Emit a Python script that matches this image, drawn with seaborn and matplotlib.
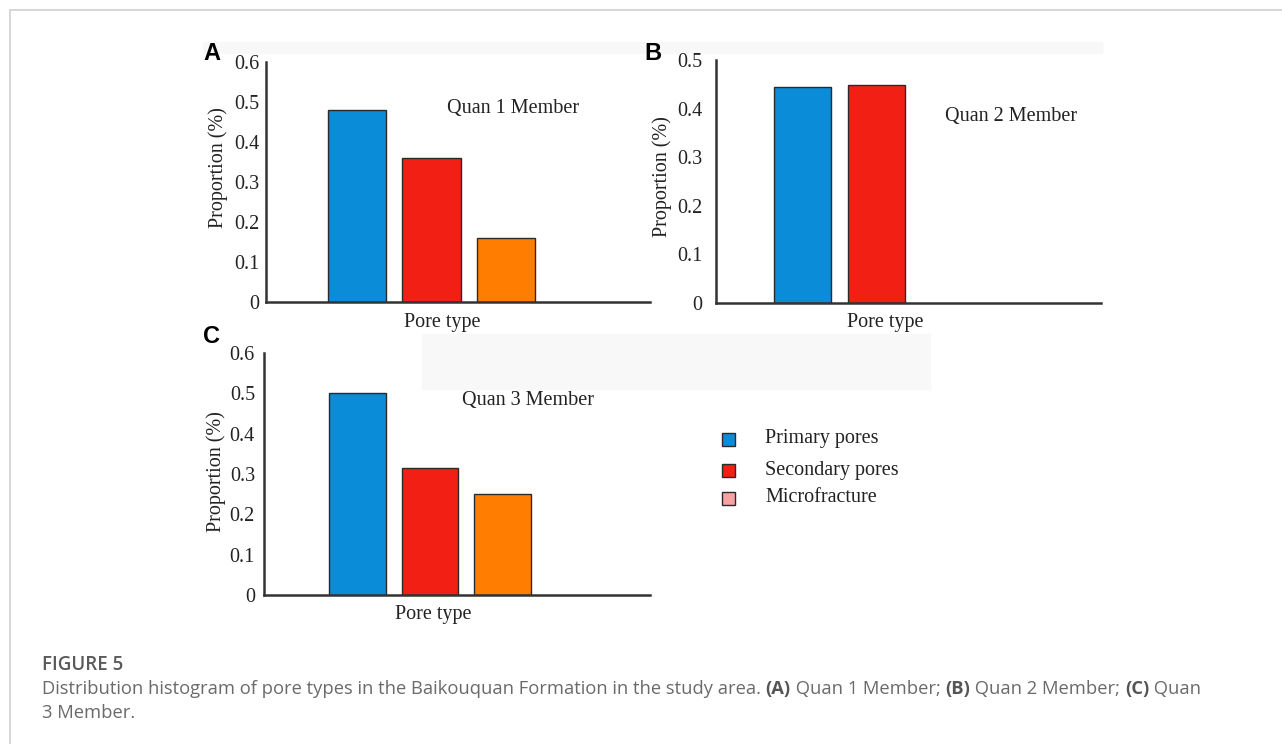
import matplotlib
matplotlib.use("Agg")
import matplotlib.pyplot as plt
import seaborn as sns
import pandas as pd
from matplotlib.patches import Rectangle

sns.set_theme(style="white")
plt.rcParams['font.family'] = ['Liberation Serif', 'DejaVu Serif']

# ---- data ----
categories = ["Primary pores", "Secondary pores", "Microfracture"]
quan1_values = [0.48, 0.36, 0.16]
quan2_categories = ["Primary pores", "Secondary pores"]
quan2_values = [0.445, 0.448]
quan3_values = [0.50, 0.315, 0.25]
bar_colors = {"Primary pores": "#0a8cd8", "Secondary pores": "#f21f14", "Microfracture": "#ff7d00"}
legend_colors = ["#0a8cd8", "#f21f14", "#f7a3a3"]
yticks_A = [0, 0.1, 0.2, 0.3, 0.4, 0.5, 0.6]
yticks_B = [0, 0.1, 0.2, 0.3, 0.4, 0.5]
yticks_C = [0, 0.1, 0.2, 0.3, 0.4, 0.5, 0.6]
ytick_labels_A = ["0", "0.1", "0.2", "0.3", "0.4", "0.5", "0.6"]
ytick_labels_B = ["0", "0.1", "0.2", "0.3", "0.4", "0.5"]

W, H = 1282, 744
fig = plt.figure(figsize=(W / 100, H / 100), dpi=100)

def frac(left, top, right, bottom):
    return [left / W, 1 - bottom / H, (right - left) / W, (bottom - top) / H]

# background artifacts / frame
fig.add_artist(plt.Line2D([9.5 / W, 1], [1 - 9.5 / H, 1 - 9.5 / H], color="#cfcfcf", lw=1.2))
fig.add_artist(plt.Line2D([9.5 / W, 9.5 / W], [0, 1 - 9.5 / H], color="#cfcfcf", lw=1.2))
fig.add_artist(Rectangle((203 / W, 1 - 53 / H), (1102 - 203) / W, 11 / H,
                         transform=fig.transFigure, color="#f8f8f8", zorder=0))
fig.add_artist(Rectangle((422 / W, 1 - 389 / H), (930 - 422) / W, 55 / H,
                         transform=fig.transFigure, color="#f8f8f8", zorder=0))

TXT = "#222222"

def panel(rect, cats, vals, ylim, yticks, yticklabels, xlim, tick_pad,
          label_text, text_xy, ylab_xy, xlab_xy):
    ax = fig.add_axes(rect)
    ax.patch.set_alpha(0)
    df = pd.DataFrame({"type": cats, "value": vals})
    sns.barplot(data=df, x="type", y="value", hue="type", order=categories,
                hue_order=cats, palette=bar_colors, width=0.78, dodge=False,
                legend=False, edgecolor="#2a2a2a", linewidth=1.0, saturation=1, ax=ax)
    ax.set_xlim(*xlim)
    ax.set_ylim(*ylim)
    ax.set_yticks(yticks)
    ax.set_yticklabels(yticklabels, fontsize=14.5, color=TXT)
    ax.set_xticks([])
    for s in ["top", "right"]:
        ax.spines[s].set_visible(False)
    for s in ["left", "bottom"]:
        ax.spines[s].set_color("#333333")
        ax.spines[s].set_linewidth(1.8)
    ax.tick_params(axis="y", length=0, pad=tick_pad)
    ax.set_ylabel("")
    ax.set_xlabel("")
    ax.text(ylab_xy[0], ylab_xy[1], "Proportion (%)", transform=ax.transAxes,
            rotation=90, fontsize=14.5, color=TXT, ha="center", va="center")
    ax.text(xlab_xy[0], xlab_xy[1], "Pore type", transform=ax.transAxes,
            fontsize=14.5, color=TXT, ha="center", va="center")
    ax.text(text_xy[0], text_xy[1], label_text, transform=ax.transAxes,
            fontsize=14.5, color=TXT, ha="center", va="center")
    return ax

axA = panel(frac(266, 62, 650, 302), categories, quan1_values, (0, 0.6), yticks_A,
            ytick_labels_A, (-1.22, 3.93), 4.5, "Quan 1 Member",
            ((513 - 266) / 384, (302 - 108) / 240),
            ((218 - 266) / 384, (302 - 168) / 240),
            ((442 - 266) / 384, (302 - 323) / 240))
axB = panel(frac(716, 60, 1101, 303), quan2_categories, quan2_values, (0, 0.5), yticks_B,
            ytick_labels_B, (-1.18, 4.06), 10, "Quan 2 Member",
            ((1011 - 716) / 385, (303 - 117) / 243),
            ((662 - 716) / 385, (303 - 177) / 243),
            ((885 - 716) / 385, (303 - 323) / 243))
axC = panel(frac(264, 353, 650, 595), categories, quan3_values, (0, 0.6), yticks_C,
            ytick_labels_A, (-1.29, 4.03), 6.5, "Quan 3 Member",
            ((528 - 264) / 386, (595 - 401) / 242),
            ((216 - 264) / 386, (595 - 472) / 242),
            ((433 - 264) / 386, (595 - 615) / 242))

# panel letters
for letter, x, y in [("A", 203, 54), ("B", 644, 54), ("C", 203, 337)]:
    fig.text(x / W, 1 - y / H, letter, fontsize=17, fontweight="bold",
             family=["Liberation Sans", "DejaVu Sans"], color="black", va="center", ha="left")

# legend
for i, (name, col) in enumerate(zip(categories, legend_colors)):
    yc = [439, 470, 498][i]
    fig.add_artist(Rectangle((722 / W, 1 - (yc + 6.5) / H), 13 / W, 13 / H,
                             transform=fig.transFigure, facecolor=col,
                             edgecolor="#2a2a2a", lw=1.0))
    fig.text(765 / W, 1 - yc / H, name, fontsize=14.5, color=TXT, va="center", ha="left")

# caption
cap_font = ["Open Sans", "DejaVu Sans"]
fig.text(42 / W, 1 - 665 / H, "FIGURE 5", fontsize=13.5, family=cap_font,
         color="#5a5a5a", va="center", ha="left", fontweight="semibold")

segments = [
    ("Distribution histogram of pore types in the Baikouquan Formation in the study area. ", "normal"),
    ("(A)", "bold"), (" Quan 1 Member; ", "normal"),
    ("(B)", "bold"), (" Quan 2 Member; ", "normal"),
    ("(C)", "bold"), (" Quan", "normal"),
]
renderer = fig.canvas.get_renderer()
x_px = 42.0
for seg, wt in segments:
    t = fig.text(x_px / W, 1 - 689 / H, seg, fontsize=13.2, family=cap_font,
                 color="#6a6a6a" if wt == "normal" else "#555555",
                 fontweight=wt, va="center", ha="left")
    bb = t.get_window_extent(renderer=renderer)
    x_px += bb.width
fig.text(42 / W, 1 - 713 / H, "3 Member.", fontsize=13.2, family=cap_font,
         color="#6a6a6a", va="center", ha="left")

fig.savefig("out.png", dpi=100)
